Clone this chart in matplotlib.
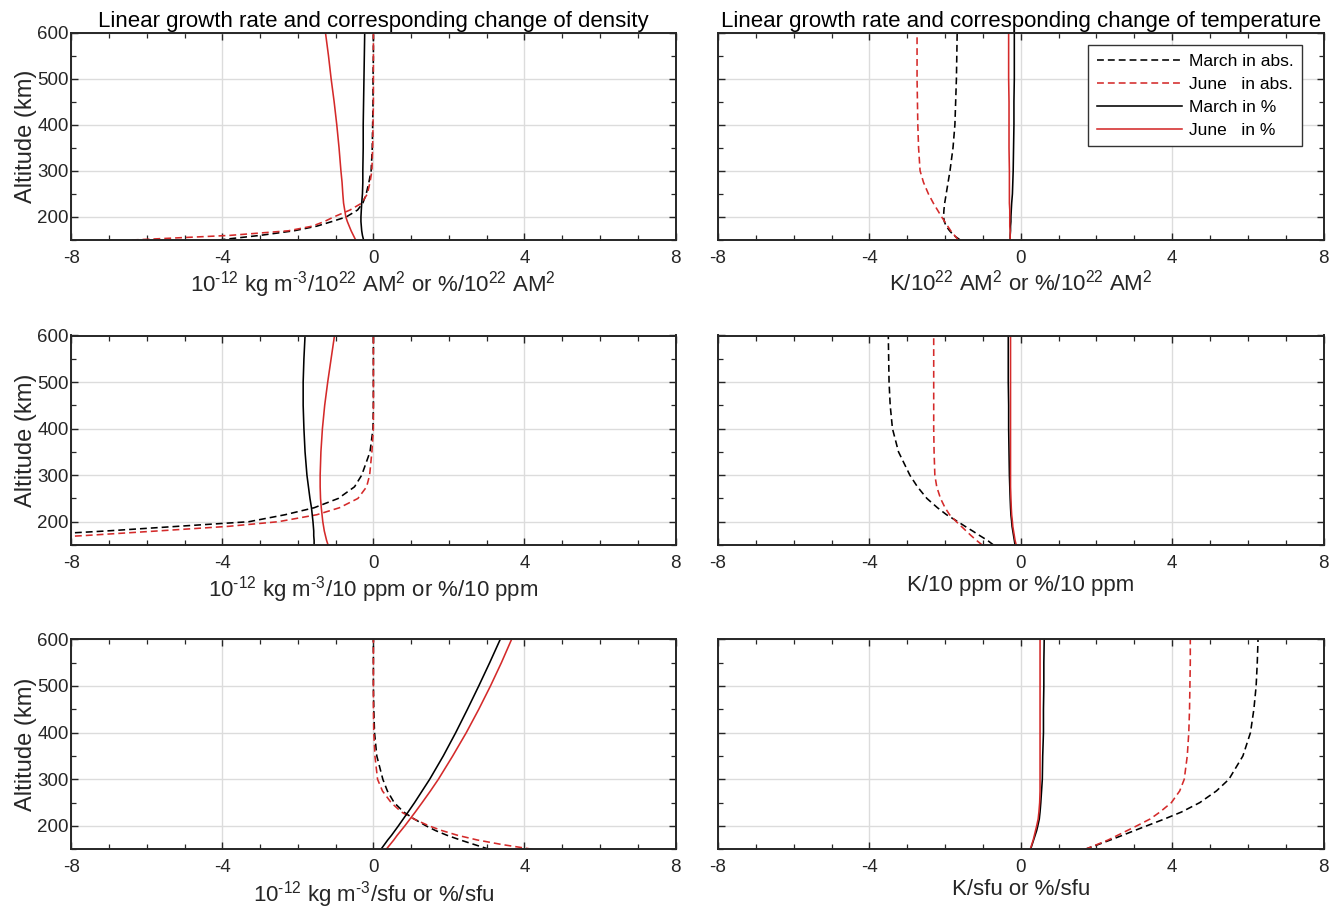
import matplotlib
matplotlib.use("Agg")
import matplotlib.pyplot as plt
from matplotlib.ticker import MultipleLocator

plt.rcParams['font.family'] = ['Liberation Sans', 'DejaVu Sans']
plt.rcParams['mathtext.fontset'] = 'custom'
plt.rcParams['mathtext.rm'] = 'Liberation Sans'
plt.rcParams['mathtext.default'] = 'regular'
plt.rcParams['axes.unicode_minus'] = False

# ---------------- data ----------------
ALT = [150, 160, 170, 180, 190, 200, 215, 230, 250, 275, 300, 350, 400, 450, 500, 550, 600]

# Panel 1: density per 10^22 AM^2
d_am_mar_abs = [-4.10, -3.00, -2.10, -1.50, -1.10, -0.72, -0.42, -0.28, -0.19, -0.12, -0.06, -0.03, -0.02, -0.01, -0.01, 0.0, 0.0]
d_am_jun_abs = [-6.40, -3.80, -2.25, -1.62, -1.30, -1.05, -0.62, -0.31, -0.16, -0.09, -0.04, -0.02, -0.01, 0.0, 0.0, 0.0, 0.0]
d_am_mar_pct = [-0.26, -0.29, -0.31, -0.32, -0.33, -0.33, -0.32, -0.31, -0.29, -0.28, -0.28, -0.27, -0.27, -0.26, -0.25, -0.24, -0.23]
d_am_jun_pct = [-0.47, -0.53, -0.59, -0.64, -0.69, -0.73, -0.76, -0.79, -0.81, -0.83, -0.86, -0.91, -0.97, -1.04, -1.12, -1.19, -1.27]

# Panel 2: temperature per 10^22 AM^2
t_am_mar_abs = [-1.60, -1.77, -1.88, -1.97, -2.02, -2.04, -2.03, -2.01, -1.97, -1.92, -1.87, -1.79, -1.74, -1.72, -1.70, -1.69, -1.68]
t_am_jun_abs = [-1.65, -1.75, -1.85, -1.93, -2.01, -2.09, -2.20, -2.31, -2.44, -2.57, -2.66, -2.70, -2.72, -2.73, -2.74, -2.74, -2.74]
t_am_mar_pct = [-0.28, -0.28, -0.27, -0.27, -0.26, -0.26, -0.25, -0.24, -0.22, -0.21, -0.20, -0.19, -0.18, -0.18, -0.17, -0.17, -0.17]
t_am_jun_pct = [-0.28, -0.28, -0.28, -0.29, -0.29, -0.29, -0.29, -0.30, -0.30, -0.30, -0.30, -0.31, -0.31, -0.31, -0.32, -0.32, -0.32]

# Panel 3: density per 10 ppm
d_ppm_mar_abs = [-15.0, -12.0, -9.3, -7.1, -5.2, -3.3, -2.34, -1.57, -0.93, -0.50, -0.31, -0.09, -0.01, 0.0, 0.0, 0.0, 0.0]
d_ppm_jun_abs = [-12.5, -10.1, -7.7, -5.75, -3.85, -2.52, -1.50, -0.90, -0.41, -0.18, -0.10, -0.04, 0.0, 0.0, 0.0, 0.0, 0.0]
d_ppm_mar_pct = [-1.57, -1.57, -1.58, -1.58, -1.59, -1.60, -1.62, -1.64, -1.68, -1.72, -1.76, -1.81, -1.84, -1.86, -1.86, -1.84, -1.81]
d_ppm_jun_pct = [-1.20, -1.24, -1.27, -1.30, -1.32, -1.34, -1.36, -1.38, -1.40, -1.41, -1.41, -1.39, -1.35, -1.29, -1.21, -1.12, -1.03]

# Panel 4: temperature per 10 ppm
t_ppm_mar_abs = [-0.72, -0.88, -1.08, -1.27, -1.47, -1.66, -1.96, -2.20, -2.48, -2.73, -2.93, -3.23, -3.39, -3.45, -3.48, -3.49, -3.50]
t_ppm_jun_abs = [-1.02, -1.17, -1.31, -1.44, -1.57, -1.70, -1.88, -2.00, -2.12, -2.22, -2.27, -2.29, -2.30, -2.30, -2.30, -2.30, -2.30]
t_ppm_mar_pct = [-0.15, -0.17, -0.19, -0.21, -0.23, -0.24, -0.26, -0.27, -0.28, -0.29, -0.30, -0.31, -0.32, -0.32, -0.33, -0.33, -0.33]
t_ppm_jun_pct = [-0.12, -0.15, -0.17, -0.19, -0.21, -0.22, -0.24, -0.25, -0.26, -0.27, -0.27, -0.27, -0.27, -0.27, -0.27, -0.27, -0.27]

# Panel 5: density per sfu
d_sfu_mar_abs = [3.07, 2.68, 2.30, 1.95, 1.65, 1.40, 1.08, 0.80, 0.55, 0.37, 0.25, 0.09, 0.03, 0.01, 0.0, 0.0, 0.0]
d_sfu_jun_abs = [4.22, 3.42, 2.75, 2.23, 1.82, 1.48, 1.07, 0.74, 0.47, 0.24, 0.11, 0.04, 0.01, 0.0, 0.0, 0.0, 0.0]
d_sfu_mar_pct = [0.20, 0.29, 0.38, 0.48, 0.57, 0.66, 0.79, 0.92, 1.09, 1.29, 1.49, 1.85, 2.18, 2.49, 2.79, 3.08, 3.36]
d_sfu_jun_pct = [0.34, 0.44, 0.54, 0.63, 0.73, 0.83, 0.97, 1.11, 1.29, 1.51, 1.72, 2.10, 2.46, 2.79, 3.10, 3.39, 3.66]

# Panel 6: temperature per sfu
t_sfu_mar_abs = [1.70, 2.04, 2.37, 2.69, 3.00, 3.32, 3.80, 4.25, 4.73, 5.17, 5.50, 5.87, 6.07, 6.16, 6.22, 6.25, 6.27]
t_sfu_jun_abs = [1.70, 2.01, 2.31, 2.56, 2.81, 3.06, 3.42, 3.68, 3.98, 4.20, 4.32, 4.40, 4.44, 4.46, 4.47, 4.48, 4.48]
t_sfu_mar_pct = [0.26, 0.30, 0.34, 0.38, 0.42, 0.45, 0.49, 0.51, 0.53, 0.55, 0.57, 0.58, 0.60, 0.60, 0.61, 0.61, 0.62]
t_sfu_jun_pct = [0.25, 0.29, 0.33, 0.36, 0.39, 0.42, 0.46, 0.48, 0.50, 0.51, 0.51, 0.51, 0.51, 0.51, 0.51, 0.51, 0.51]

SERIES_LABELS = ["March in abs.", "June   in abs.", "March in %", "June   in %"]
TITLES = ["Linear growth rate and corresponding change of density",
          "Linear growth rate and corresponding change of temperature"]
XLABELS = [
    [r"10$^{\text{-12}}$ kg m$^{\text{-3}}$/10$^{22}$ AM$^{2}$ or %/10$^{22}$ AM$^{2}$",
     r"K/10$^{22}$ AM$^{2}$ or %/10$^{22}$ AM$^{2}$"],
    [r"10$^{\text{-12}}$ kg m$^{\text{-3}}$/10 ppm or %/10 ppm", "K/10 ppm or %/10 ppm"],
    [r"10$^{\text{-12}}$ kg m$^{\text{-3}}$/sfu or %/sfu", "K/sfu or %/sfu"],
]
PANELS = [
    [(d_am_mar_abs, d_am_jun_abs, d_am_mar_pct, d_am_jun_pct),
     (t_am_mar_abs, t_am_jun_abs, t_am_mar_pct, t_am_jun_pct)],
    [(d_ppm_mar_abs, d_ppm_jun_abs, d_ppm_mar_pct, d_ppm_jun_pct),
     (t_ppm_mar_abs, t_ppm_jun_abs, t_ppm_mar_pct, t_ppm_jun_pct)],
    [(d_sfu_mar_abs, d_sfu_jun_abs, d_sfu_mar_pct, d_sfu_jun_pct),
     (t_sfu_mar_abs, t_sfu_jun_abs, t_sfu_mar_pct, t_sfu_jun_pct)],
]

# ---------------- styling ----------------
W, H = 1342, 915
RED = '#d42a2a'
DARK = '#262626'
DASH = (0, (4.3, 2.5))
STYLES = [dict(color='black', ls=DASH), dict(color=RED, ls=DASH),
          dict(color='black', ls='-'), dict(color=RED, ls='-')]

fig = plt.figure(figsize=(W / 100, H / 100), dpi=100)

col_x = [(71.3, 675.5), (718.0, 1323.5)]
row_y = [(32.5, 240.0), (335.5, 545.0), (639.3, 849.3)]

for r in range(3):
    for c in range(2):
        x0, x1 = col_x[c]
        y0, y1 = row_y[r]
        ax = fig.add_axes([x0 / W, 1 - y1 / H, (x1 - x0) / W, (y1 - y0) / H])
        for vals, st, lab in zip(PANELS[r][c], STYLES, SERIES_LABELS):
            ax.plot(vals, ALT, lw=1.15, label=lab, **st)
        ax.set_xlim(-8, 8)
        ax.set_ylim(150, 600)
        ax.set_xticks([-8, -4, 0, 4, 8])
        ax.set_yticks([200, 300, 400, 500, 600])
        ax.xaxis.set_minor_locator(MultipleLocator(1))
        ax.yaxis.set_minor_locator(MultipleLocator(50))
        ax.grid(True, which='major', color='#dcdcdc', lw=1.0)
        ax.set_axisbelow(True)
        ax.tick_params(which='both', direction='in', top=True, right=True,
                       color=DARK, labelcolor=DARK, labelsize=13.5)
        ax.tick_params(which='major', length=5, width=1.0)
        ax.tick_params(which='minor', length=3.5, width=0.9)
        ax.tick_params(axis='x', pad=7)
        ax.tick_params(axis='y', pad=2)
        for sp in ax.spines.values():
            sp.set_color(DARK)
            sp.set_linewidth(1.4)
        ax.set_xlabel(XLABELS[r][c], fontsize=16, color=DARK, labelpad=2)
        if c == 0:
            ax.set_ylabel("Altitude (km)", fontsize=17, color=DARK, labelpad=0)
        else:
            ax.tick_params(axis='y', labelleft=False)
        if r == 0:
            ax.set_title(TITLES[c], fontsize=16, color='black', pad=2)
        if r == 0 and c == 1:
            leg = ax.legend(loc='upper right', bbox_to_anchor=(0.9645, 0.94),
                            borderaxespad=0, fontsize=12.5, handlelength=4.9,
                            fancybox=False, framealpha=1, edgecolor='#333333',
                            borderpad=0.5, labelspacing=0.45, handletextpad=0.4)
            leg.get_frame().set_linewidth(1.0)

fig.savefig("out.png", dpi=100)
